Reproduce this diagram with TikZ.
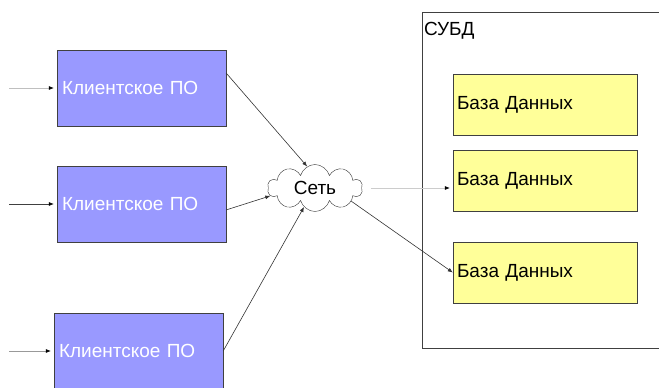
\documentclass[tikz,border=0pt]{standalone}
\usepackage{fontspec}
\setmainfont{Liberation Sans}
\usetikzlibrary{shapes.symbols,arrows.meta}
\definecolor{clientblue}{RGB}{153,153,255}
\definecolor{dbyellow}{RGB}{255,255,153}

\begin{document}
\begin{tikzpicture}[
		x=1pt, y=-1pt,
		every node/.style={font=\fontsize{19}{22}\selectfont},
		client/.style={draw=black!75, fill=clientblue, text=white, text width=159pt, align=left, inner sep=5pt, minimum height=76pt},
		db/.style={draw=black!75, fill=dbyellow, text width=176pt, align=left, inner sep=4pt, minimum height=61pt},
		net/.style={cloud, draw=black!80, fill=white, cloud puffs=10, aspect=2, minimum width=95pt, minimum height=47pt, inner sep=0pt},
		link/.style={draw=black!80, line width=0.6pt, -{Latex[length=5pt,width=4pt]}},
		feed/.style={line width=0.6pt, shorten >=3pt, -{Latex[length=5pt,width=4pt,black]}}
		]
		\useasboundingbox (0,0) rectangle (659,388);
		% DBMS container
		\node[draw=black!75, minimum width=240pt, minimum height=336pt, inner sep=0pt] (subd) at (542,180) {};
		\node[anchor=north west, inner xsep=2pt, inner ysep=10pt] (subdlbl) at (subd.north west) {СУБД};
		\node[db] (db1) at (545,104.5) {База Данных};
		\node[db] (db2) at (545,181) {База Данных};
		\node[db] (db3) at (545,272.5) {База Данных};
		% clients
		\node[client] (cl1) at (141.5,88) {Клиентское ПО};
		\node[client] (cl2) at (141.5,204) {Клиентское ПО};
		\node[client] (cl3) at (138.5,351) {Клиентское ПО};
		\node[net] (net) at (315,188) {Сеть};
		% inputs
		\coordinate (in1) at (9,88);
		\coordinate (in2) at (9,204);
		\coordinate (in3) at (9,351);
		\draw[feed, draw=black!25] (in1) -- (cl1.west);
		\draw[feed, draw=black!75] (in2) -- (cl2.west);
		\draw[feed, draw=black!40] (in3) -- (cl3.west);
		% links
		\draw[link] (cl1.10) -- (net.110);
		\draw[link] (cl2.-4) -- (net.190);
		\draw[link] (cl3.east) -- (net.240);
		\draw[link] (net.-20) -- (db3.west);
		\draw[feed, draw=black!20, shorten <=9pt] (net.east) -- (db2.west |- net.east);
\end{tikzpicture}
\end{document}
